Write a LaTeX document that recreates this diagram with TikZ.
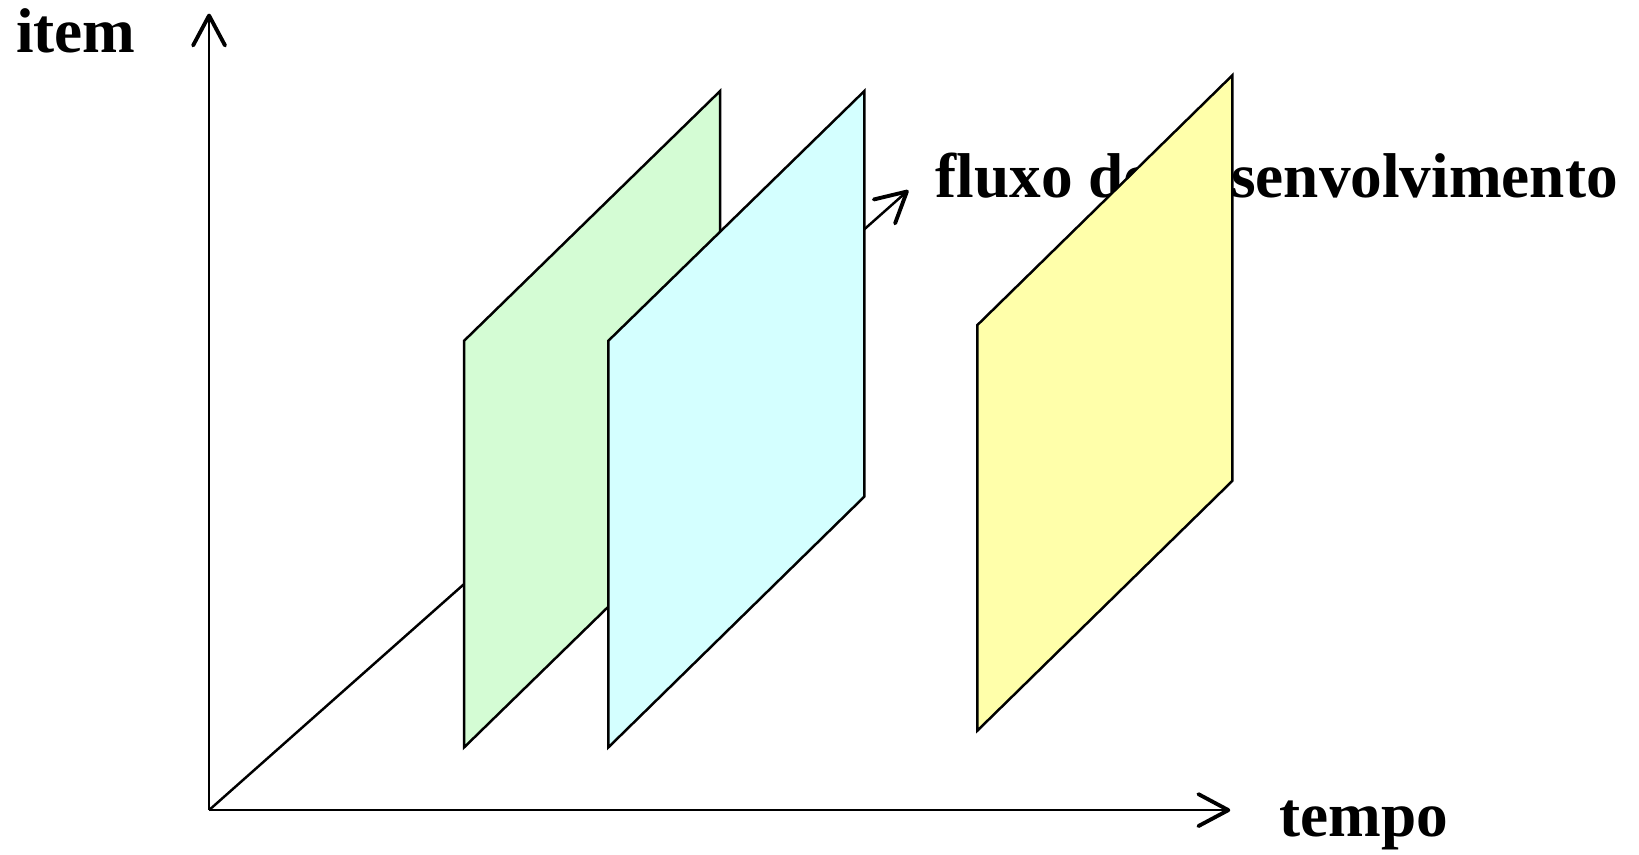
\documentclass[tikz,border=0pt]{standalone}
\usepackage{fontspec}
\setmainfont{Liberation Serif}
\usepackage{xcolor}
\usetikzlibrary{arrows.meta, positioning}
\definecolor{phaseGreen}{HTML}{D4FCD4}
\definecolor{phaseCyan}{HTML}{D4FFFF}
\definecolor{phaseYellow}{HTML}{FFFFAA}

\begin{document}
\begin{tikzpicture}[x=0.020906cm, y=-0.020906cm,
        axis/.style={-{Straight Barb[length=0.6cm, width=0.64cm, line width=2.2pt, round]}, line width=1.4pt, color=black},
        panel/.style={draw=black, line width=1.4pt, line join=miter},
        lbl/.style={font=\fontsize{36}{40}\selectfont\bfseries, inner sep=0pt}]
        \useasboundingbox (0,0) rectangle (1568,817);

        % Axes
        \coordinate (orig) at (200,775);
        \coordinate (itemTop) at (200,13);
        \coordinate (tempoEnd) at (1177,775);
        \coordinate (fluxoEnd) at (869,182);
        \draw[axis] (orig) -- (itemTop);
        \draw[axis] (orig) -- (tempoEnd);
        \draw[axis] (orig) -- (fluxoEnd);

        % Phase 1
        \filldraw[panel, fill=phaseGreen] (444,715) -- (444,326) -- (689,87) -- (689,476) -- cycle;
        % Phase 2
        \filldraw[panel, fill=phaseCyan] (582,715) -- (582,326) -- (827,87) -- (827,475) -- cycle;

        % Labels
        \node[lbl, anchor=base west] (item) at (15,50) {item};
        \node[lbl, anchor=base west] (tempo) at (1224,800) {tempo};
        \node[lbl, anchor=base west] (fluxo) at (895,189) {fluxo de desenvolvimento};

        % Phase 3
        \filldraw[panel, fill=phaseYellow] (935,699) -- (935,311) -- (1179,72) -- (1179,460) -- cycle;
    \end{tikzpicture}
\end{document}
